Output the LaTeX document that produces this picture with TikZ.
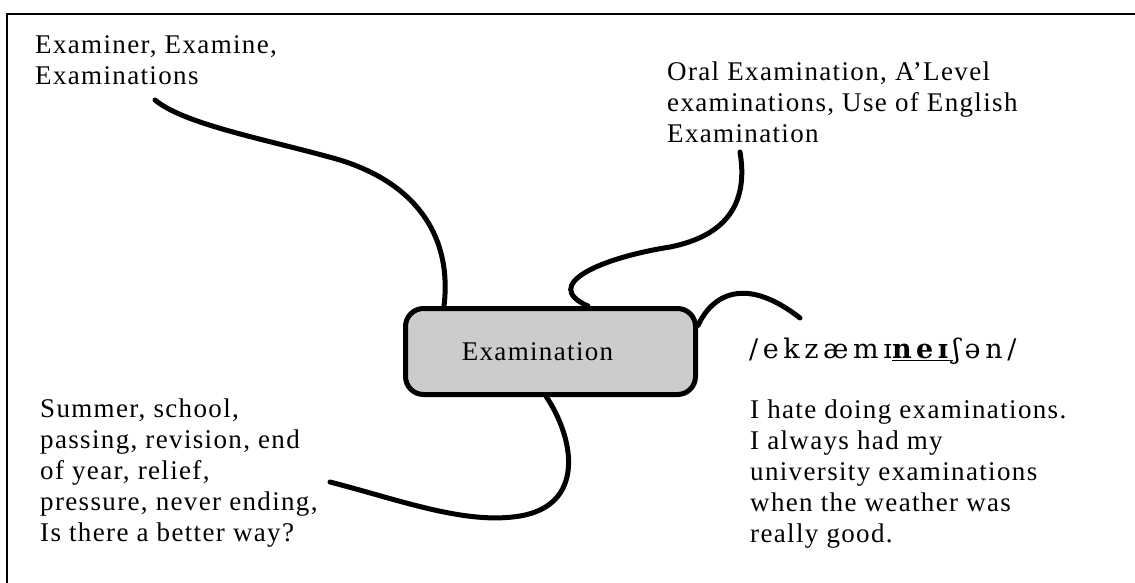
\documentclass[tikz,border=0pt]{standalone}
\usepackage{fontspec}
\setmainfont[LetterSpace=5]{Liberation Serif}
\newfontfamily\ipafont[LetterSpace=17]{DejaVu Serif}
\usetikzlibrary{positioning}

\tikzset{
  note/.style={anchor=north west, inner sep=0pt, align=left},
  link/.style={line width=5pt, line cap=round},
  topic/.style={draw, line width=5pt, rounded corners=18pt, fill=black!20,
    minimum width=290pt, minimum height=86pt, inner sep=0pt}
}

\begin{document}
\begin{tikzpicture}[x=1pt, y=-1pt, font=\fontsize{27}{31}\selectfont]
\useasboundingbox (0,0) rectangle (1135,582);
\clip (0,0) rectangle (1135,582);
\draw[line width=2pt] (7,14) rectangle (1160,610);

\node[topic] (exam) at (550.5,351.5) {Examination\hspace*{26pt}};

\node[note] (forms) at (35,35) {Examiner, Examine,\\Examinations};
\node[note] (kinds) at (667,62) {Oral Examination, A'Level\\examinations, Use of English\\Examination};
\node[note] (assoc) at (40,399) {Summer, school,\\passing, revision, end\\of year, relief,\\pressure, never ending,\\Is there a better way?};
\node[anchor=base west, inner sep=0pt, font=\fontsize{27}{31}\ipafont] (sound) at (749,358) {/ekzæmɪ\underline{\textbf{neɪ}}ʃən/};
\node[note] (memory) at (750,400) {I hate doing examinations.\\I always had my\\university examinations\\when the weather was\\really good.};

\coordinate (c1) at (155,100);
\coordinate (c2) at (740,152);
\coordinate (c3) at (800,318);
\coordinate (c4) at (330,482);

\draw[link] (c1) .. controls (185,125) and (270,140) .. (340,160)
  .. controls (420,185) and (452,240) .. ([xshift=-106.5pt]exam.north);
\draw[link] (c2) .. controls (748,200) and (730,235) .. (670,247)
  .. controls (600,258) and (540,285) .. ([xshift=37.5pt]exam.north);
\draw[link] ([yshift=26pt]exam.east) .. controls (712,295) and (745,275) .. (c3);
\draw[link] ([xshift=-4pt]exam.south) .. controls (575,440) and (585,505) .. (520,516)
  .. controls (465,525) and (400,500) .. (c4);
\end{tikzpicture}
\end{document}
